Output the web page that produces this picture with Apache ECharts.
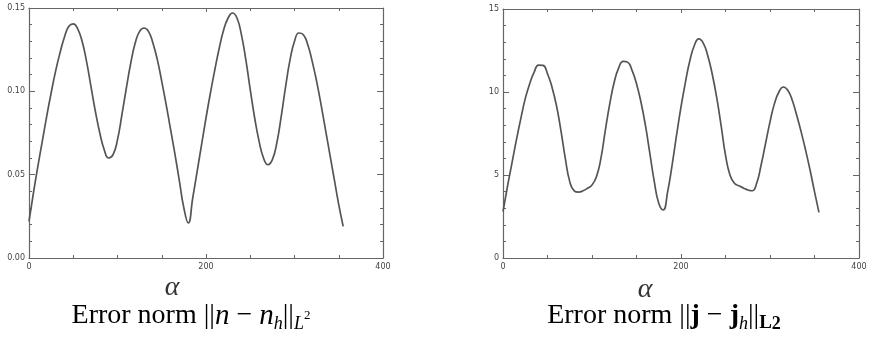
<!DOCTYPE html>
<html>
<head>
<meta charset="utf-8">
<script src="https://cdn.jsdelivr.net/npm/echarts@6/dist/echarts.min.js"></script>
<style>
html,body{margin:0;padding:0;background:#fff;}
#c{width:870px;height:337px;}
</style>
</head>
<body>
<div id="c"></div>
<script>
// Angle samples (degrees)
const alpha = [0,5,10,15,20,25,30,35,40,45,50,55,60,65,70,75,80,85,90,95,100,105,110,115,120,125,130,135,140,145,150,155,160,165,170,175,180,185,190,195,200,205,210,215,220,225,230,235,240,245,250,255,260,265,270,275,280,285,290,295,300,305,310,315,320,325,330,335,340,345,350,355];
// Left panel: ||n - n_h||_{L^2}
const normLeft = [0.022,0.039,0.055,0.070,0.085,0.099,0.112,0.123,0.1325,0.139,0.1405,0.1375,0.130,0.118,0.103,0.088,0.075,0.065,0.060,0.062,0.071,0.086,0.102,0.117,0.129,0.136,0.138,0.136,0.129,0.119,0.106,0.092,0.077,0.062,0.046,0.030,0.021,0.036,0.052,0.068,0.084,0.099,0.113,0.126,0.137,0.144,0.147,0.144,0.134,0.119,0.101,0.084,0.070,0.060,0.056,0.059,0.069,0.085,0.103,0.119,0.130,0.135,0.134,0.128,0.118,0.106,0.092,0.077,0.062,0.047,0.032,0.019];
// Right panel: ||j - j_h||_{L2}
const normRight = [2.8,4.3,5.7,7.1,8.4,9.6,10.5,11.2,11.62,11.6,11.1,10.3,9.2,7.7,6.0,4.6,4.05,3.97,4.05,4.2,4.4,4.9,6.0,7.7,9.3,10.6,11.45,11.85,11.8,11.3,10.5,9.4,8.0,6.3,4.6,3.3,2.9,4.0,5.6,7.4,9.1,10.6,11.9,12.8,13.2,12.95,12.2,11.1,9.7,8.0,6.2,5.0,4.5,4.35,4.22,4.1,4.05,4.5,5.6,6.9,8.2,9.3,10.0,10.3,10.1,9.5,8.6,7.6,6.5,5.3,4.0,2.75];
const xTicks = [0,200,400];
const yTicksLeft = ['0.00','0.05','0.10','0.15'];
const yTicksRight = ['0','5','10','15'];

const pairs = (xs, ys) => xs.map((x,i)=>[x, ys[i]]);
const axisColor = '#666';
const lblStyle = {color:'#444', fontSize:8, fontFamily:'DejaVu Sans'};

function xAxes(gi){
  const base = {type:'value', gridIndex:gi, min:xTicks[0], max:xTicks[xTicks.length-1], interval:xTicks[1]-xTicks[0],
    axisLine:{show:true, onZero:false, lineStyle:{color:axisColor, width:1.2}},
    axisTick:{show:true, inside:true, length:4, lineStyle:{color:axisColor}},
    minorTick:{show:true, splitNumber:4, length:3, lineStyle:{color:axisColor}},
    splitLine:{show:false}};
  return [
    Object.assign({}, base, {position:'bottom', axisLabel:{...lblStyle, margin:5}}),
    Object.assign({}, base, {position:'top', axisLabel:{show:false}})
  ];
}
function yAxes(gi, labels){
  const vals = labels.map(Number);
  const base = {type:'value', gridIndex:gi, min:vals[0], max:vals[vals.length-1], interval:vals[1]-vals[0],
    axisLine:{show:true, onZero:false, lineStyle:{color:axisColor, width:1.2}},
    axisTick:{show:true, inside:true, length:6, lineStyle:{color:axisColor}},
    minorTick:{show:true, splitNumber:5, length:3, lineStyle:{color:axisColor}},
    splitLine:{show:false}};
  const fmt = v => { const k = vals.findIndex(t => Math.abs(t - v) < 1e-9); return k >= 0 ? labels[k] : ''; };
  return [
    Object.assign({}, base, {position:'left', axisLabel:{...lblStyle, margin:4, formatter:fmt}}),
    Object.assign({}, base, {position:'right', axisLabel:{show:false}})
  ];
}

const serif = '"Liberation Serif","DejaVu Serif",serif';
const C = '#222';
const rich = {
  a:{fontFamily:serif, fontSize:28, color:C, lineHeight:34, verticalAlign:'middle'},
  i:{fontFamily:serif, fontSize:29, fontStyle:'italic', color:C, lineHeight:34, verticalAlign:'middle'},
  b:{fontFamily:serif, fontSize:28, fontWeight:'bold', color:C, lineHeight:34, verticalAlign:'middle'},
  s:{fontFamily:serif, fontSize:18, fontStyle:'italic', color:C, lineHeight:21, verticalAlign:'bottom'},
  sb:{fontFamily:serif, fontSize:19, fontWeight:'bold', color:C, lineHeight:21, verticalAlign:'bottom'},
  sup:{fontFamily:serif, fontSize:13, color:C, lineHeight:32, verticalAlign:'middle'},
  supb:{fontFamily:serif, fontSize:18, fontWeight:'bold', color:C, lineHeight:22, verticalAlign:'bottom'}
};

const chart = echarts.init(document.getElementById('c'));
chart.setOption({
  backgroundColor:'#fff',
  animation:false,
  grid:[
    {left:29, top:8, width:354, height:250},
    {left:503, top:9, width:356, height:249}
  ],
  xAxis:[...xAxes(0), ...xAxes(1)],
  yAxis:[...yAxes(0, yTicksLeft), ...yAxes(1, yTicksRight)],
  series:[
    {type:'line', xAxisIndex:0, yAxisIndex:0, data:pairs(alpha, normLeft), smooth:0.5, showSymbol:false,
     lineStyle:{color:'#555', width:1.7}},
    {type:'line', xAxisIndex:2, yAxisIndex:2, data:pairs(alpha, normRight), smooth:0.5, showSymbol:false,
     lineStyle:{color:'#555', width:1.7}}
  ],
  graphic:[
    {type:'text', x:172, y:288, style:{text:'α', font:'italic 28px '+serif, fill:'#333', align:'center', verticalAlign:'middle'}},
    {type:'text', x:645, y:290, style:{text:'α', font:'italic 28px '+serif, fill:'#333', align:'center', verticalAlign:'middle'}},
    {type:'text', x:191, y:316, style:{align:'center', verticalAlign:'middle',
      text:'{a|Error norm ||}{i|n}{a| − }{i|n}{s|h}{a|||}{s|L}{sup|2}', rich:rich}},
    {type:'text', x:664, y:316, style:{align:'center', verticalAlign:'middle',
      text:'{a|Error norm ||}{b|j}{a| − }{b|j}{s|h}{a|||}{sb|L}{supb|2}', rich:rich}}
  ]
});
</script>
</body>
</html>
